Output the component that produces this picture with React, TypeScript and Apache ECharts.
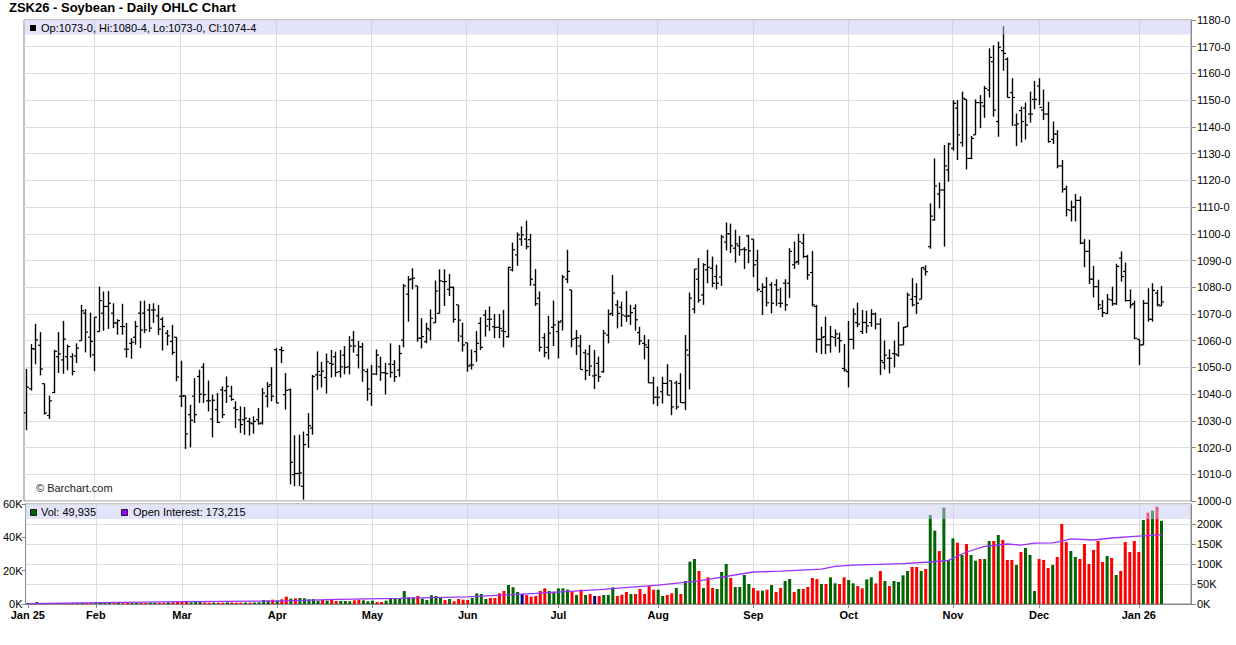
import React, { useEffect, useRef } from "react";
import * as echarts from "echarts";

// ---------- data ----------
const openP = [
  1033, 1042, 1056.8, 1058.3, 1043.9, 1032, 1040.6, 1054, 1052.8, 1054,
  1054, 1054.3, 1060, 1070.3, 1061.3, 1054.7, 1063.4, 1070.3, 1072.8, 1070.3,
  1066.6, 1065.3, 1056.8, 1059, 1061.3, 1070.3, 1070.3, 1071.5, 1071.5, 1069.3,
  1068, 1062.8, 1059.7, 1061.3, 1039.2, 1039.4, 1032.3, 1039.2, 1046.6, 1050.1,
  1037.5, 1030.7, 1034.2, 1041.6, 1041.3, 1039.2, 1034.8, 1030.4, 1030.4, 1029.8,
  1028.9, 1030.4, 1029.2, 1039.2, 1043.5, 1056.6, 1056.6, 1039.8, 1041.6, 1009.9,
  1010.3, 1005.5, 1024.8, 1027.3, 1047.2, 1047.1, 1046.2, 1051.5, 1054, 1048.4,
  1054.6, 1050.2, 1060.2, 1054.6, 1057.7, 1048.4, 1040.2, 1047.5, 1050.2, 1048,
  1051.2, 1051.1, 1049, 1060.2, 1077.4, 1083.1, 1080.5, 1060.9, 1059.6, 1064,
  1066.7, 1070.2, 1082.1, 1079.2, 1080, 1073.4, 1061.7, 1059.2, 1050.9, 1055.9,
  1066.5, 1069.6, 1068, 1065.2, 1065, 1063.7, 1061.5, 1086.5, 1092.1, 1098,
  1098, 1097.8, 1080.9, 1075.9, 1061.1, 1057.5, 1065, 1063.4, 1067.4, 1083,
  1079, 1060.9, 1058, 1055.5, 1055, 1046.8, 1051.5, 1048.4, 1062.1, 1070.2,
  1073.4, 1072.5, 1069.2, 1069.2, 1072.1, 1063, 1059, 1057.5, 1044.2, 1038.8,
  1040.9, 1044, 1045, 1044.2, 1044, 1036.8, 1054.6, 1071.8, 1083, 1077.1,
  1086.5, 1087.1, 1084, 1083.8, 1096.9, 1100, 1094.6, 1095.5, 1094.2, 1099.2,
  1098, 1090, 1078.4, 1080, 1080.9, 1080.9, 1074, 1081.5, 1081.5, 1088.4,
  1089.6, 1096.5, 1091.5, 1085.5, 1072.8, 1060.5, 1061.5, 1058.4, 1061.2, 1060.9,
  1049.6, 1048.4, 1060.5, 1066.8, 1063.4, 1066.8, 1066.8, 1070, 1066.2, 1051.8,
  1053.4, 1055.2, 1054.6, 1058.4, 1065.2, 1075.5, 1076.5, 1075.5, 1086.8, 1095.2,
  1105.2, 1114.9, 1116.4, 1123.9, 1132, 1147, 1134.1, 1150.3, 1128.2, 1137,
  1149.1, 1147.8, 1153.8, 1164.4, 1142, 1168.5, 1165.3, 1152.8, 1140.7, 1146.1,
  1147, 1144.8, 1150.3, 1155.3, 1146.3, 1144.8, 1135.3, 1137.3, 1125.4, 1116.8,
  1108.8, 1110, 1112.5, 1096.5, 1093.4, 1083, 1080.2, 1072.1, 1070.2, 1075.2,
  1073.8, 1090.9, 1085.9, 1075, 1073.8, 1060.5, 1058.4, 1074, 1068, 1077.8,
  1073,
];
const highP = [
  1049.4, 1058.7, 1066.3, 1063.2, 1043.9, 1039.4, 1056.6, 1063.2, 1067.4, 1058.5,
  1055.3, 1059, 1073.4, 1071.8, 1070.5, 1068.8, 1080.2, 1078.4, 1078.6, 1074,
  1068, 1073.8, 1066.6, 1061, 1067.4, 1074.9, 1075, 1073.8, 1074, 1073.4,
  1068.8, 1064, 1065.9, 1061.3, 1052.5, 1039.4, 1036, 1046, 1049.1, 1051.6,
  1045.1, 1039.8, 1040.4, 1042.9, 1046.6, 1043.1, 1037.3, 1035.4, 1035.2, 1031.1,
  1031.7, 1034.8, 1042.3, 1044.5, 1050.1, 1057.2, 1057.8, 1047.9, 1042.1, 1024.6,
  1024.8, 1026, 1032.9, 1047.2, 1056, 1052.1, 1055.2, 1056.5, 1055.9, 1056.5,
  1058, 1061.7, 1063.6, 1059.9, 1059.2, 1049.6, 1050.9, 1056.7, 1054, 1051.7,
  1059, 1052.7, 1058.4, 1081.2, 1084.2, 1087.1, 1080.5, 1068.4, 1066.7, 1071.7,
  1082.5, 1086.7, 1086.7, 1085, 1080.2, 1073.4, 1066.7, 1059.2, 1056.7, 1063.6,
  1068.8, 1071.5, 1072.8, 1070, 1070, 1071.5, 1087.7, 1096.7, 1100.5, 1102.8,
  1104.9, 1100, 1086.8, 1078.4, 1062.8, 1069.3, 1075, 1067.5, 1084.6, 1094,
  1079, 1064, 1062.1, 1056.7, 1058.4, 1056.5, 1054, 1064, 1071.7, 1084.6,
  1075.2, 1074.6, 1078.6, 1073.4, 1073.6, 1065.2, 1062.1, 1060.5, 1046.5, 1042.8,
  1046.5, 1051.2, 1045, 1045, 1047.8, 1062.1, 1078, 1086.8, 1090.9, 1089,
  1094, 1091.5, 1088.4, 1099.6, 1104.2, 1103.8, 1101.5, 1099.2, 1095, 1099.6,
  1098, 1094, 1081.5, 1083.8, 1081.9, 1083, 1079.9, 1083, 1094.6, 1097.1,
  1100, 1100, 1092.1, 1093.6, 1073.4, 1065.2, 1069, 1065.5, 1064.2, 1063,
  1058.8, 1067.4, 1072.1, 1074.2, 1071.5, 1071.2, 1071.8, 1070.5, 1068.4, 1060,
  1056.8, 1060, 1067.1, 1065.2, 1078, 1083.4, 1081.5, 1087.4, 1088.2, 1111.4,
  1128.2, 1119.2, 1133.2, 1134.1, 1150, 1150, 1153.2, 1150.3, 1136.6, 1150.3,
  1151.9, 1155.3, 1169.4, 1170.6, 1171.9, 1177.8, 1166, 1158.2, 1145, 1147.6,
  1149.1, 1153.2, 1157.2, 1158.2, 1154, 1149.4, 1142, 1138.8, 1127.6, 1118,
  1112.4, 1114.9, 1114, 1098, 1097.8, 1088, 1082.8, 1075.2, 1077.5, 1080.2,
  1088.8, 1093.4, 1089.2, 1079.2, 1075, 1060.5, 1075.2, 1079.6, 1081.5, 1079,
  1080.5,
];
const lowP = [
  1026.5, 1041.3, 1051.2, 1047, 1032.3, 1030.7, 1040.4, 1047.9, 1047.6, 1048.9,
  1047, 1051.6, 1060, 1055.6, 1053.7, 1048.6, 1063.4, 1063.7, 1064.4, 1064.7,
  1062.2, 1062.2, 1053.7, 1053.2, 1058.5, 1057.2, 1062.8, 1063.2, 1066.6, 1062.2,
  1056.3, 1058.2, 1054.7, 1044.8, 1035.2, 1019.5, 1020.1, 1029.2, 1036.7, 1036.7,
  1033.5, 1023.8, 1029.2, 1031, 1036.7, 1037.5, 1027.3, 1025.5, 1024.8, 1024.5,
  1025.2, 1028.6, 1028.6, 1035, 1037.3, 1036.7, 1051.6, 1034.2, 1006.2, 1005.5,
  1005.5, 1000.5, 1019.9, 1024.8, 1041.6, 1042.5, 1040.2, 1046.2, 1046.5, 1046.2,
  1047.4, 1047.4, 1055.5, 1049.6, 1044.6, 1037.5, 1035.6, 1047.1, 1045, 1039.9,
  1046.2, 1044.6, 1046.5, 1057.5, 1067.1, 1079.2, 1059.6, 1057.1, 1059, 1060.2,
  1066.7, 1070.2, 1073, 1076.7, 1066.7, 1059.6, 1055.9, 1048.4, 1049.2, 1052.1,
  1056.5, 1061.5, 1063.6, 1060.9, 1060.9, 1057.5, 1061.1, 1085.9, 1088, 1095.5,
  1094.2, 1080.5, 1073, 1055.9, 1053.8, 1053, 1058, 1053.4, 1063.8, 1081.5,
  1057.5, 1054.6, 1049.2, 1045.2, 1046.8, 1041.9, 1044.6, 1048, 1059, 1069.2,
  1064.6, 1065.2, 1067.1, 1065.9, 1063.8, 1058.4, 1053, 1044.2, 1036.2, 1035.5,
  1036.5, 1039.6, 1032.1, 1034.2, 1036.8, 1034, 1041.8, 1070.2, 1074.2, 1073.4,
  1081.5, 1080, 1079.2, 1080.5, 1093.8, 1092.8, 1089.2, 1091.8, 1086.8, 1089,
  1083.8, 1078.4, 1069.6, 1072.8, 1070.2, 1073, 1072.4, 1071.2, 1075.9, 1086.8,
  1088.4, 1090.9, 1082.8, 1072.8, 1055.5, 1055, 1055, 1055.5, 1057.8, 1055.5,
  1048.4, 1042.5, 1056.8, 1065, 1062.5, 1062.8, 1065.2, 1064.2, 1047.1, 1049.2,
  1047.8, 1050, 1054, 1058.4, 1065.2, 1072.8, 1070, 1075.5, 1084.4, 1094.4,
  1104.9, 1109.5, 1095.2, 1119.5, 1131.1, 1127.6, 1132.6, 1124.1, 1127.9, 1137,
  1139.5, 1143.4, 1151, 1143.8, 1136.3, 1161, 1151, 1140.3, 1132.8, 1134.1,
  1135.3, 1141.6, 1146.6, 1148.2, 1142.6, 1134.1, 1133.6, 1124.5, 1115.4, 1106.5,
  1104.6, 1104.6, 1096.1, 1087.5, 1081.2, 1076.2, 1071.5, 1068.8, 1070, 1073,
  1073.4, 1082.1, 1074.6, 1072.1, 1060.5, 1050.9, 1058.4, 1067.1, 1067.1, 1072.8,
  1073,
];
const closeP = [
  1042.6, 1057, 1060.3, 1049.4, 1032.9, 1037.5, 1056, 1055, 1060.6, 1057.8,
  1048.5, 1057.2, 1071.2, 1063.2, 1059.7, 1068.8, 1075, 1072.8, 1074, 1066.6,
  1067.5, 1065.3, 1056.8, 1059.4, 1065.3, 1064, 1064, 1064.7, 1071.5, 1064.3,
  1065.3, 1061.8, 1055.6, 1046.4, 1039.2, 1025.1, 1030.2, 1032.3, 1040, 1039.8,
  1037.5, 1037.7, 1029.4, 1032.3, 1042.9, 1038, 1034.2, 1028.6, 1031, 1029.2,
  1029.8, 1028.9, 1040.4, 1042.9, 1039.2, 1036.7, 1056.3, 1041.4, 1014.5, 1010.3,
  1010.5, 1021.1, 1028.2, 1046.6, 1048.5, 1048.6, 1052.1, 1051.2, 1048.1, 1050.2,
  1050, 1058, 1058, 1057.7, 1049, 1041.9, 1047.5, 1054.6, 1048, 1047.7,
  1048.1, 1046.5, 1055.2, 1080.5, 1082.8, 1083.4, 1060.9, 1061.5, 1064.6, 1068.4,
  1078.6, 1082.4, 1082.1, 1079.9, 1068, 1067.7, 1058.4, 1050.5, 1050.9, 1059,
  1057.5, 1065.5, 1068, 1065, 1064.6, 1063.4, 1087.4, 1094, 1099.6, 1099.6,
  1095.2, 1083, 1073.8, 1057.5, 1055.5, 1062.8, 1065.9, 1066.9, 1083.8, 1085.9,
  1060.5, 1061.1, 1049.2, 1048.8, 1050.5, 1047.1, 1046.5, 1062.8, 1069.9, 1077.8,
  1070.2, 1069.6, 1069.2, 1070.5, 1067.8, 1059.9, 1058.4, 1044.2, 1038.8, 1038.8,
  1044, 1039.6, 1035.2, 1035.2, 1036.8, 1056.5, 1075.9, 1086.8, 1075.2, 1088.4,
  1087.5, 1081.5, 1081.5, 1098.8, 1100, 1095.5, 1096.2, 1094, 1094, 1093.6,
  1088.4, 1079.2, 1080, 1074.2, 1074, 1079, 1074, 1073.4, 1093.4, 1089.2,
  1097.1, 1091.5, 1084.6, 1073.4, 1060.5, 1061.2, 1058.4, 1061.5, 1062.5, 1060,
  1049, 1060.5, 1070, 1066.2, 1066.8, 1065.5, 1070, 1066.2, 1052.5, 1054.6,
  1053.4, 1055, 1058.4, 1065, 1077.1, 1073.4, 1074, 1087.4, 1085.8, 1106.6,
  1117.9, 1116.4, 1125.4, 1133.6, 1148.8, 1137, 1150.7, 1128.2, 1135.7, 1149.1,
  1149.1, 1154.4, 1166, 1146.3, 1169.8, 1167.5, 1151, 1151, 1141.1, 1142,
  1140.7, 1144.8, 1150.3, 1147.3, 1144.8, 1134.5, 1137.3, 1125.4, 1116.6, 1109,
  1110, 1112.5, 1096.5, 1093.4, 1083, 1080.2, 1073.4, 1070.5, 1075.5, 1073.8,
  1087.8, 1084, 1075, 1073.4, 1060.9, 1058.4, 1074, 1068, 1078.8, 1073.4,
  1074.5,
];
// daily volume, thousands of contracts
const volumeK = [
  0.6, 0.4, 1.2, 0.5, 0.5, 0.4, 0.6, 0.5, 0.6, 0.4,
  0.5, 0.5, 0.7, 0.6, 0.6, 0.9, 1.0, 0.6, 0.7, 0.5,
  0.6, 0.5, 0.6, 0.6, 0.7, 0.6, 0.6, 0.8, 0.8, 0.7,
  0.8, 1.0, 1.1, 1.3, 1.2, 1.4, 1.0, 1.2, 1.3, 0.9,
  0.8, 0.9, 0.8, 0.8, 1.0, 0.9, 0.8, 0.8, 0.9, 0.8,
  0.9, 1.0, 2.4, 2.2, 2.6, 2.2, 2.8, 4.4, 3.2, 3.4,
  3.6, 3.4, 2.8, 3.0, 2.0, 2.4, 2.0, 2.6, 1.8, 1.8,
  1.8, 1.6, 2.2, 2.6, 2.2, 1.6, 2.0, 1.2, 1.2, 2.0,
  3.0, 3.2, 3.2, 7.8, 4.0, 4.0, 4.8, 3.2, 2.4, 5.2,
  4.8, 3.6, 2.4, 3.0, 1.6, 3.0, 2.6, 2.4, 3.6, 6.4,
  6.0, 3.0, 3.6, 3.6, 6.4, 7.8, 11.4, 10.0, 7.2, 6.0,
  5.4, 4.4, 4.8, 7.8, 9.4, 7.8, 7.4, 9.4, 9.4, 8.6,
  7.2, 5.4, 8.6, 5.4, 6.0, 4.8, 4.8, 5.4, 5.4, 10.0,
  4.8, 5.6, 7.2, 6.0, 6.0, 9.0, 6.0, 10.8, 8.6, 8.6,
  4.8, 5.4, 6.4, 9.6, 6.0, 13.8, 25.4, 27.0, 19.8, 9.6,
  16.0, 9.6, 9.0, 19.2, 24.0, 15.6, 10.2, 10.2, 17.4, 12.0,
  9.6, 8.0, 8.0, 8.6, 11.4, 7.2, 9.6, 13.8, 15.0, 7.2,
  9.0, 9.0, 10.2, 15.6, 15.0, 12.0, 12.0, 16.0, 12.4, 12.0,
  16.0, 14.4, 12.4, 10.8, 9.4, 14.8, 16.0, 12.4, 19.8, 13.8,
  10.8, 13.8, 13.2, 17.2, 19.8, 22.2, 22.2, 19.8, 21.0, 53.4,
  44.0, 31.8, 57.8, 26.4, 39.4, 36.8, 29.4, 36.0, 29.4, 26.0,
  27.0, 27.0, 37.8, 37.8, 41.4, 38.4, 26.4, 26.4, 23.4, 31.2,
  33.6, 29.4, 7.8, 27.0, 26.4, 21.6, 23.4, 28.2, 48.0, 37.2,
  31.8, 28.2, 27.0, 36.0, 24.0, 32.4, 37.8, 25.2, 28.8, 27.6,
  17.4, 19.8, 37.2, 31.2, 37.8, 31.2, 50.4, 54.8, 56.0, 58.4,
  49.935,
];
// bar colour per day: g = up, r = down, b = unchanged
const volumeColor = (
  "grggrrgggr rggrrggggr grrggrrggr rgrrrrgggr rgrrgrrrgr " +
  "ggggrgrrgr gggggrgrrg ggrrgggrrg ggggggrggg ggrgrrrrgg " +
  "ggrrrrgggb rrrrrggggg rgrgrbrggg rrrgrrrrrg grrgrgggrg " +
  "rrgggrgggg rrgrgrrggr grrrrgrggr rggrrggrrg rggggrrgrg " +
  "grgggrgrgg rggrgrrrgr gggrrrgrrr ggrrrrrrgr grrrrrgrgr g"
).replace(/ /g, "");
// open interest (thousands) read at these bar positions
const oiIdx = [0, 16, 35, 55, 68, 82, 97, 112, 126, 139, 148, 160, 166, 175, 178, 182, 193, 199, 203, 207, 211, 216, 219, 222, 226, 228, 230, 235, 239, 244, 247, 250];
const oiK = [0.8, 3.3, 5.8, 7.4, 11.6, 14, 18, 26.5, 36, 47, 58, 80, 82, 87, 94, 97, 101, 105, 109, 130, 144, 150, 147, 152, 153, 157, 163, 160, 165, 169, 171, 173.215];
// month boundaries (bar index of first session) and their labels
const monthIdx = [0, 15, 34, 55, 76, 97, 117, 139, 160, 181, 204, 223, 245];
const monthLabels = ["Jan 25", "Feb", "Mar", "Apr", "May", "Jun", "Jul", "Aug", "Sep", "Oct", "Nov", "Dec", "Jan 26"];
const SLOTS = 257;
const priceMin = 1000;
const priceMax = 1180;
const priceStep = 10;
const volMax = 60;
const volStep = 20;
const oiMax = 250;
const oiStep = 50;

const FONT = '"Liberation Sans", Arial, sans-serif';
const fmtPrice = (p: number) => {
  const w = Math.floor(p);
  return `${w}-${Math.round((p - w) * 8)}`;
};

export default function App() {
  const ref = useRef<HTMLDivElement>(null);
  useEffect(() => {
    const chart = echarts.init(ref.current!, null, { renderer: "svg" });
    const cats = Array.from({ length: SLOTS }, (_, i) => String(i));
    const monthSet = new Set(monthIdx);
    const labelMap: Record<string, string> = {};
    monthIdx.forEach((ix, k) => (labelMap[String(ix)] = monthLabels[k]));
    const ohlc = openP.map((o, i) => [i, o, highP[i], lowP[i], closeP[i]]);
    const colMap: Record<string, string> = { g: "#006400", r: "#ff0000", b: "#000080" };
    const last = openP.length - 1;
    const legendText = `Op:${fmtPrice(openP[last])}, Hi:${fmtPrice(highP[last])}, Lo:${fmtPrice(lowP[last])}, Cl:${fmtPrice(closeP[last])}`;
    const volText = `Vol: ${Math.round(volumeK[last] * 1000).toLocaleString("en-US")}`;
    const oiText = `Open Interest: ${Math.round(oiK[oiK.length - 1] * 1000).toLocaleString("en-US")}`;
    const gridLineColor = "#dcdcdc";
    const axisColor = "#888";
    const vLines = monthIdx.slice(1).map((ix) => ({ xAxis: ix }));

    const option: any = {
      animation: false,
      backgroundColor: "#fff",
      textStyle: { fontFamily: FONT },
      grid: [
        { left: 24, top: 20, width: 1167, height: 481, show: true, borderColor: axisColor, borderWidth: 1, backgroundColor: "transparent" },
        { left: 24, top: 504, width: 1167, height: 100, show: true, borderColor: axisColor, borderWidth: 1, backgroundColor: "transparent" },
      ],
      xAxis: [
        {
          type: "category", gridIndex: 0, data: cats, boundaryGap: true,
          axisLine: { show: false }, axisTick: { show: false }, axisLabel: { show: false }, splitLine: { show: false },
        },
        {
          type: "category", gridIndex: 1, data: cats, boundaryGap: true,
          axisLine: { show: true, lineStyle: { color: axisColor } },
          axisTick: { show: true, alignWithLabel: true, length: 4, interval: (i: number) => monthSet.has(i), lineStyle: { color: axisColor } },
          axisLabel: {
            interval: (i: number) => monthSet.has(i),
            formatter: (v: string) => labelMap[v] || "",
            fontSize: 11, fontWeight: "bold", color: "#000", margin: 5, fontFamily: FONT,
          },
          splitLine: { show: false },
        },
      ],
      yAxis: [
        {
          type: "value", gridIndex: 0, position: "right", min: priceMin, max: priceMax, interval: priceStep,
          axisLine: { show: true, lineStyle: { color: axisColor } },
          axisTick: { show: true, length: 5, lineStyle: { color: axisColor } },
          axisLabel: { formatter: (v: number) => fmtPrice(v), fontSize: 11, color: "#000", margin: 6, fontFamily: FONT },
          splitLine: { show: true, lineStyle: { color: gridLineColor } },
        },
        {
          type: "value", gridIndex: 1, position: "left", min: 0, max: volMax, interval: volStep,
          axisLine: { show: true, lineStyle: { color: axisColor } },
          axisTick: { show: true, length: 4, lineStyle: { color: axisColor } },
          axisLabel: { formatter: (v: number) => `${v}K`, fontSize: 11, color: "#000", margin: 3, fontFamily: FONT },
          splitLine: { show: false },
        },
        {
          type: "value", gridIndex: 1, position: "right", min: 0, max: oiMax, interval: oiStep,
          axisLine: { show: true, lineStyle: { color: axisColor } },
          axisTick: { show: true, length: 5, lineStyle: { color: axisColor } },
          axisLabel: { formatter: (v: number) => `${v}K`, fontSize: 11, color: "#000", margin: 6, showMaxLabel: false, fontFamily: FONT },
          splitLine: { show: true, lineStyle: { color: gridLineColor } },
        },
      ],
      series: [
        {
          type: "line", xAxisIndex: 0, yAxisIndex: 0, data: [], z: 0, silent: true,
          markLine: {
            z: 0, silent: true, symbol: ["none", "none"], animation: false,
            lineStyle: { color: gridLineColor, type: "solid", width: 1 },
            label: { show: false }, data: vLines,
          },
        },
        {
          type: "line", xAxisIndex: 1, yAxisIndex: 1, data: [], z: 0, silent: true,
          markLine: {
            z: 0, silent: true, symbol: ["none", "none"], animation: false,
            lineStyle: { color: gridLineColor, type: "solid", width: 1 },
            label: { show: false }, data: vLines,
          },
        },
        {
          type: "custom", xAxisIndex: 0, yAxisIndex: 0, data: ohlc, clip: true, z: 6,
          encode: { x: 0, y: [1, 2, 3, 4] },
          renderItem: (_params: any, api: any) => {
            const i = api.value(0);
            const pO = api.coord([i, api.value(1)]);
            const pH = api.coord([i, api.value(2)]);
            const pL = api.coord([i, api.value(3)]);
            const pC = api.coord([i, api.value(4)]);
            const x = Math.round(pH[0]) + 0.5;
            return {
              type: "group",
              children: [
                { type: "line", shape: { x1: x, y1: pH[1], x2: x, y2: pL[1] }, style: { stroke: "#000", lineWidth: 1.4 } },
                { type: "line", shape: { x1: x - 2.5, y1: pO[1], x2: x, y2: pO[1] }, style: { stroke: "#000", lineWidth: 1.2 } },
                { type: "line", shape: { x1: x, y1: pC[1], x2: x + 2.5, y2: pC[1] }, style: { stroke: "#000", lineWidth: 1.2 } },
              ],
            };
          },
        },
        {
          type: "line", xAxisIndex: 0, yAxisIndex: 0, data: [], z: 20, silent: true,
          markLine: {
            z: 20, silent: true, symbol: ["none", "none"], animation: false,
            lineStyle: { opacity: 0 },
            data: [
              {
                yAxis: closeP[last],
                label: {
                  show: true, position: "end", distance: 5, formatter: fmtPrice(closeP[last]),
                  color: "#fff", backgroundColor: "#000", fontSize: 11, padding: [1, 1, 0, 1], fontFamily: FONT,
                },
              },
            ],
          },
        },
        {
          type: "bar", xAxisIndex: 1, yAxisIndex: 1, barWidth: 3, z: 6,
          data: volumeK.map((v, i) => ({ value: v, itemStyle: { color: colMap[volumeColor[i]] } })),
        },
        {
          type: "line", xAxisIndex: 1, yAxisIndex: 2, showSymbol: false, z: 7,
          data: oiIdx.map((ix, k) => [ix, oiK[k]]),
          lineStyle: { color: "#9b30ff", width: 1.3 },
        },
      ],
      graphic: [
        { type: "text", left: 9, top: 1, style: { text: "ZSK26 - Soybean - Daily OHLC Chart", font: `bold 13px ${FONT}`, fill: "#000" } },
        { type: "rect", z: 100, shape: { x: 25, y: 21, width: 1165, height: 13.5 }, style: { fill: "rgba(200,200,245,0.5)" } },
        { type: "rect", z: 101, shape: { x: 30, y: 25, width: 6, height: 6 }, style: { fill: "#000" } },
        { type: "text", z: 101, x: 41, y: 28, style: { text: legendText, font: `11px ${FONT}`, fill: "#000", verticalAlign: "middle" } },
        { type: "text", z: 101, x: 36, y: 488, style: { text: "© Barchart.com", font: `11px ${FONT}`, fill: "#222", verticalAlign: "middle" } },
        { type: "rect", z: 100, shape: { x: 25, y: 505, width: 1165, height: 14 }, style: { fill: "rgba(200,200,245,0.5)" } },
        { type: "rect", z: 101, shape: { x: 30.5, y: 509.5, width: 6, height: 6 }, style: { fill: "#006400", stroke: "#000", lineWidth: 0.8 } },
        { type: "text", z: 101, x: 41, y: 512, style: { text: volText, font: `11px ${FONT}`, fill: "#000", verticalAlign: "middle" } },
        { type: "rect", z: 101, shape: { x: 121.5, y: 509.5, width: 6, height: 6 }, style: { fill: "#9900ff", stroke: "#000", lineWidth: 0.8 } },
        { type: "text", z: 101, x: 133, y: 512, style: { text: oiText, font: `11px ${FONT}`, fill: "#000", verticalAlign: "middle" } },
      ],
    };
    chart.setOption(option);
    return () => chart.dispose();
  }, []);
  return (
    <div
      ref={ref}
      style={{ position: "fixed", left: 0, top: 0, width: 1236, height: 645, background: "#fff" }}
    />
  );
}
